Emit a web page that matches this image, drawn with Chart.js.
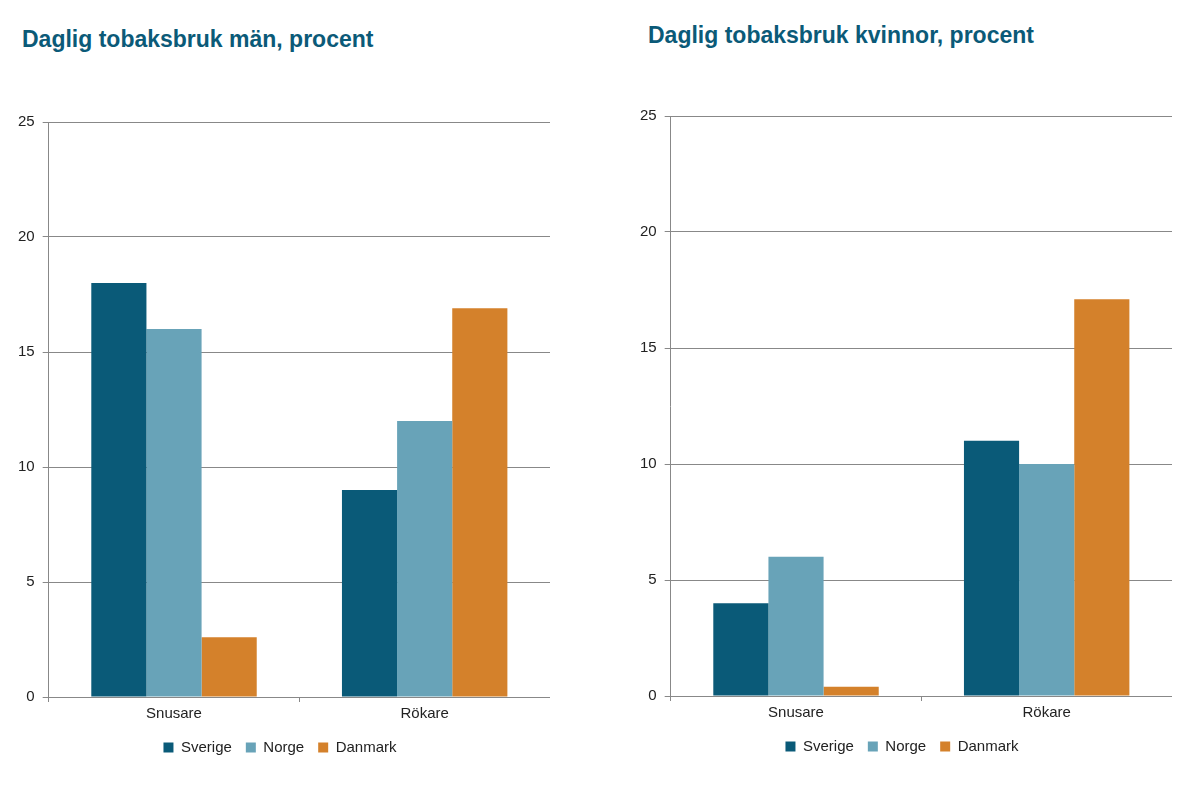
<!DOCTYPE html>
<html><head><meta charset="utf-8">
<script src="https://cdn.jsdelivr.net/npm/chart.js@4"></script>
<style>
body{margin:0;width:1204px;height:798px;background:#fff;position:relative;font-family:"Liberation Sans",Arial,sans-serif;overflow:hidden}
.t{position:absolute;font-weight:bold;font-size:23px;color:#0b5a78}
.c{position:absolute}
</style></head><body>
<div class="t" style="left:22px;top:26px">Daglig tobaksbruk män, procent</div>
<div class="t" style="left:648px;top:22px">Daglig tobaksbruk kvinnor, procent</div>
<div class="c" style="left:10px;top:105px;width:540px;height:660px"><canvas id="a"></canvas></div>
<div class="c" style="left:632px;top:99px;width:540px;height:665px"><canvas id="b"></canvas></div>
<script>
const categories=["Snusare","Rökare"];
const seriesNames=["Sverige","Norge","Danmark"];
const menSverige=[18,9], menNorge=[16,12], menDanmark=[2.6,16.9];
const womenSverige=[4,11], womenNorge=[6,10], womenDanmark=[0.4,17.1];
const yTicks=[0,5,10,15,20,25];
const colors=["#0a5a78","#68a3b8","#d4812b"];
function mk(id,vals){
 new Chart(document.getElementById(id),{type:'bar',
 data:{labels:categories,datasets:vals.map((v,i)=>({label:seriesNames[i],data:v,backgroundColor:colors[i],categoryPercentage:0.66,barPercentage:1}))},
 options:{responsive:true,maintainAspectRatio:false,animation:false,
 plugins:{legend:{position:'bottom',labels:{boxWidth:10,boxHeight:10,font:{size:15,family:'Liberation Sans'},color:'#222',padding:14}},tooltip:{enabled:false}},
 scales:{y:{min:0,max:25,afterBuildTicks:ax=>{ax.ticks=yTicks.map(v=>({value:v}))},grid:{color:'#888',drawTicks:true,tickLength:6},border:{color:'#888'},ticks:{font:{size:15,family:'Liberation Sans'},color:'#222',padding:8}},
 x:{grid:{offset:true,drawOnChartArea:false,color:'#888',tickLength:5},border:{color:'#888'},ticks:{font:{size:15,family:'Liberation Sans'},color:'#222'}}}}});
}
mk('a',[menSverige,menNorge,menDanmark]);
mk('b',[womenSverige,womenNorge,womenDanmark]);
</script></body></html>
